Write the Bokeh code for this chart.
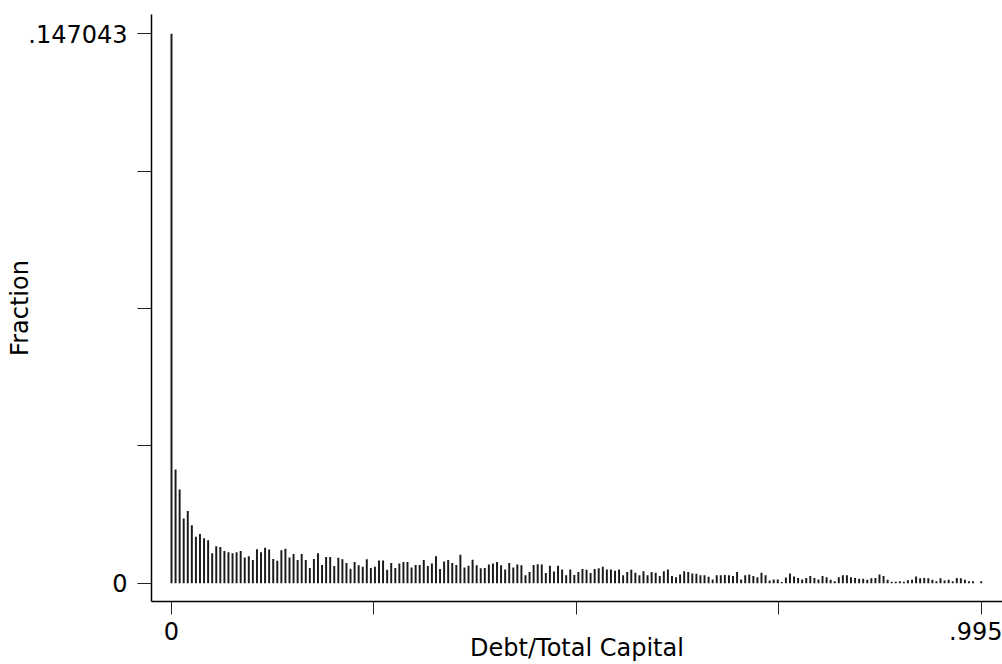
from bokeh.plotting import figure
from bokeh.models import FixedTicker, Range1d, ColumnDataSource
from bokeh.embed import file_html
from bokeh.resources import INLINE

# ---- data: fraction of firms per 0.005-wide bin of Debt/Total Capital ----
bin_width = 0.005
fractions = [
    0.147043,
    # bins 1-39
    0.0304, 0.0251, 0.0173, 0.0193, 0.0155, 0.0124, 0.0132, 0.0120, 0.0115, 0.0080,
    0.0099, 0.0097, 0.0086, 0.0083, 0.0080, 0.0083, 0.0086, 0.0069, 0.0072, 0.0062,
    0.0091, 0.0083, 0.0095, 0.0090, 0.0065, 0.0060, 0.0088, 0.0092, 0.0069, 0.0078,
    0.0062, 0.0078, 0.0062, 0.0041, 0.0065, 0.0080, 0.0049, 0.0070, 0.0070,
    # bins 40-78
    0.0046, 0.0068, 0.0064, 0.0054, 0.0039, 0.0057, 0.0048, 0.0044, 0.0064, 0.0041,
    0.0044, 0.0061, 0.0061, 0.0036, 0.0054, 0.0041, 0.0053, 0.0057, 0.0057, 0.0042,
    0.0049, 0.0049, 0.0062, 0.0046, 0.0053, 0.0072, 0.0038, 0.0058, 0.0062, 0.0054,
    0.0049, 0.0076, 0.0042, 0.0047, 0.0063, 0.0048, 0.0040, 0.0041, 0.0050,
    # bins 79-115
    0.0053, 0.0057, 0.0048, 0.0037, 0.0054, 0.0042, 0.0050, 0.0048, 0.0021, 0.0030,
    0.0049, 0.0051, 0.0050, 0.0027, 0.0047, 0.0031, 0.0047, 0.0037, 0.0021, 0.0037,
    0.0022, 0.0030, 0.0038, 0.0036, 0.0027, 0.0038, 0.0040, 0.0044, 0.0037, 0.0037,
    0.0033, 0.0037, 0.0021, 0.0030, 0.0036, 0.0028, 0.0021,
    # bins 116-157
    0.0032, 0.0021, 0.0030, 0.0028, 0.0019, 0.0032, 0.0037, 0.0019, 0.0016, 0.0023,
    0.0032, 0.0030, 0.0026, 0.0025, 0.0021, 0.0021, 0.0017, 0.0010, 0.0021, 0.0021,
    0.0022, 0.0021, 0.0019, 0.0030, 0.0010, 0.0021, 0.0023, 0.0019, 0.0016, 0.0028,
    0.0021, 0.0007, 0.0010, 0.0010, 0.0003, 0.0015, 0.0026, 0.0018, 0.0014, 0.0010,
    0.0014, 0.0019,
    # bins 158-199
    0.0014, 0.0010, 0.0019, 0.0016, 0.0009, 0.0005, 0.0016, 0.0021, 0.0021, 0.0016,
    0.0014, 0.0012, 0.0012, 0.0009, 0.0013, 0.0014, 0.0023, 0.0019, 0.0009, 0.0004,
    0.0004, 0.0005, 0.0004, 0.0008, 0.0009, 0.0018, 0.0013, 0.0014, 0.0013, 0.0009,
    0.0005, 0.0013, 0.0007, 0.0009, 0.0005, 0.0014, 0.0013, 0.0009, 0.0005, 0.0005,
    0.0, 0.0005,
]
bin_starts = [round(i * bin_width, 3) for i in range(len(fractions))]

x_ticks = [0, 0.24875, 0.4975, 0.74625, 0.995]
x_tick_labels = {0: "0", 0.24875: "", 0.4975: "", 0.74625: "", 0.995: ".995"}
y_max = 0.147043
y_ticks = [0, y_max / 4, y_max / 2, 3 * y_max / 4, y_max]
y_tick_labels = {0: "0", y_max / 4: "", y_max / 2: "", 3 * y_max / 4: "", y_max: ".147043"}

x_title = "Debt/Total Capital"
y_title = "Fraction"

source = ColumnDataSource(dict(x=bin_starts, top=fractions))

p = figure(width=1002, height=664, output_backend="svg", toolbar_location=None,
           x_range=Range1d(-0.024576, 1.02117), y_range=Range1d(-0.004898, 0.152209),
           min_border_left=151, min_border_right=0, min_border_top=14, min_border_bottom=63)
p.background_fill_color = "white"
p.border_fill_color = "white"
p.outline_line_color = None
p.xgrid.visible = False
p.ygrid.visible = False

p.vbar(x="x", top="top", bottom=0, width=0.0024, source=source,
       fill_color="#1a1a1a", line_color=None)

for ax in (p.xaxis[0], p.yaxis[0]):
    ax.axis_line_color = "black"
    ax.axis_line_width = 1.5
    ax.major_tick_line_color = "#222222"
    ax.major_tick_line_width = 1
    ax.major_tick_in = 0
    ax.minor_tick_out = 0
    ax.minor_tick_in = 0
    ax.major_label_text_font = "DejaVu Sans"
    ax.major_label_text_font_size = "24px"
    ax.major_label_text_color = "black"
    ax.axis_label_text_font = "DejaVu Sans"
    ax.axis_label_text_font_size = "24px"
    ax.axis_label_text_font_style = "normal"
    ax.axis_label_text_color = "black"

xa = p.xaxis[0]
xa.ticker = FixedTicker(ticks=x_ticks)
xa.major_label_overrides = x_tick_labels
xa.major_tick_out = 13
xa.major_label_standoff = 7
xa.axis_label = x_title
xa.axis_label_standoff = -9

ya = p.yaxis[0]
ya.ticker = FixedTicker(ticks=y_ticks)
ya.major_label_overrides = y_tick_labels
ya.major_tick_out = 14
ya.major_label_standoff = 10
ya.axis_label = y_title
ya.axis_label_standoff = -9

open("out.html", "w").write(file_html(p, INLINE))
